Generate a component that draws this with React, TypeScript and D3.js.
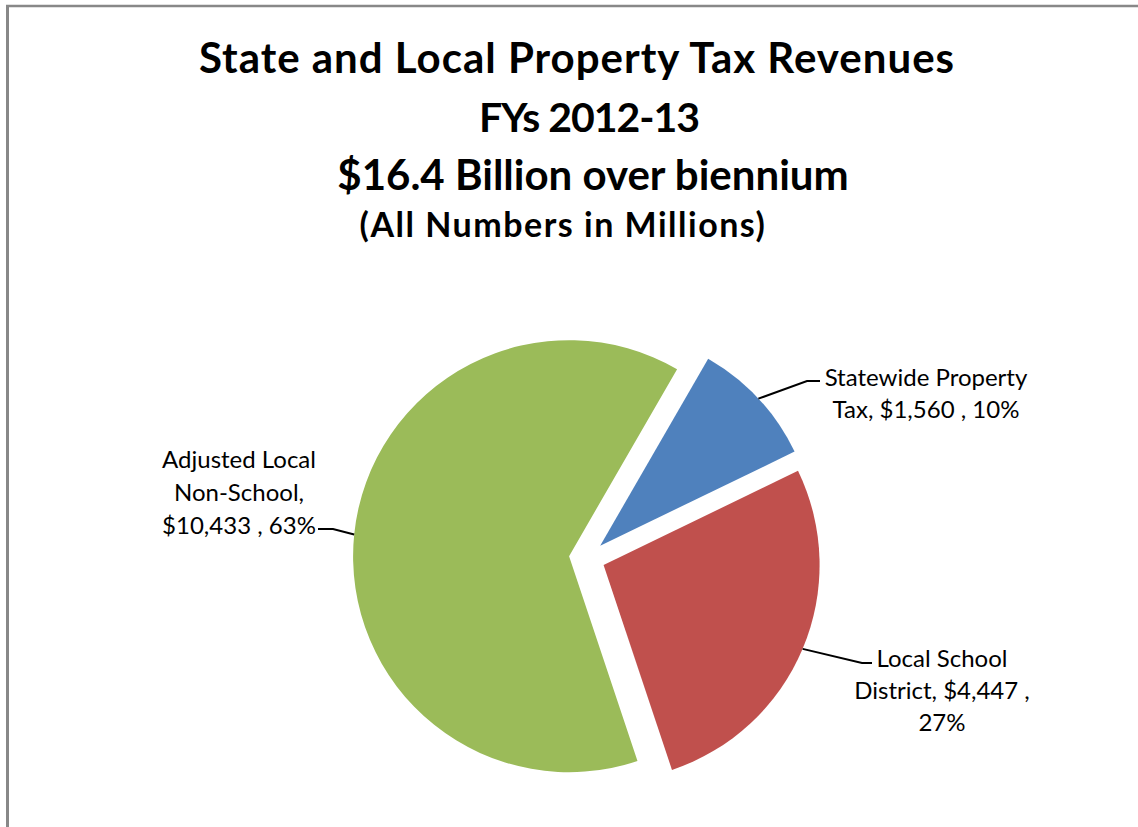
import React from "react";
import * as d3 from "d3";

const categories = ["Statewide Property Tax", "Local School District", "Adjusted Local Non-School"];
const values = [1560, 4447, 10433];
const percents = ["10%", "27%", "63%"];
const colors = ["#4F81BD", "#C0504D", "#9BBB59"];
const titleLines = ["State and Local Property Tax Revenues", "FYs 2012-13", "$16.4 Billion over biennium"];
const subtitle = "(All Numbers in Millions)";

const fmt = d3.format(",");
const labelLines = [
  ["Statewide Property", `Tax, $${fmt(values[0])} , ${percents[0]}`],
  ["Local School", `District, $${fmt(values[1])} ,`, percents[1]],
  ["Adjusted Local", "Non-School,", `$${fmt(values[2])} , ${percents[2]}`],
];

// layout
const W = 1138, H = 827;
const CX = 587, CY = 558, R = 216, EXPLODE = 18;
const START = (30 * Math.PI) / 180;
const titleX = [577, 589, 593];
const titleBase = [73, 132, 190];
const titleSize = [42, 41, 42];
const titleSpacing = [1, -1, 0];
const labelLayout = [
  { cx: 926, y0: 376, dy: 32, elbow: [807, 381], end: [820, 381] },
  { cx: 942, y0: 657, dy: 32, elbow: [862, 663], end: [872, 663] },
  { cx: 239, y0: 458, dy: 33, elbow: [333, 529], end: [318, 529] },
];
const FONT = "Lato, 'Open Sans', sans-serif";

export default function App() {
  const pie = d3.pie<number>().sort(null).startAngle(START).endAngle(START + 2 * Math.PI)(values);
  const arc = d3.arc<d3.PieArcDatum<number>>().innerRadius(0).outerRadius(R);
  return (
    <svg width={W} height={H} style={{ position: "absolute", left: 0, top: 0, display: "block", background: "#fff" }}>
      <rect x={0} y={0} width={W} height={H} fill="#fff" />
      <line x1={7.5} y1={5} x2={7.5} y2={H} stroke="#888" strokeWidth={3} />
      <line x1={6} y1={6} x2={W} y2={6} stroke="#888" strokeWidth={2.5} />
      <g fontFamily={FONT} fontWeight="bold" fill="#000" textAnchor="middle">
        {titleLines.map((t, i) => (
          <text key={i} x={titleX[i]} y={titleBase[i]} fontSize={titleSize[i]} letterSpacing={titleSpacing[i]}>{t}</text>
        ))}
        <text x={563} y={237} fontSize={34} letterSpacing={1.5}>{subtitle}</text>
      </g>
      {pie.map((d, i) => {
        const mid = (d.startAngle + d.endAngle) / 2;
        const ox = CX + Math.sin(mid) * EXPLODE;
        const oy = CY - Math.cos(mid) * EXPLODE;
        const px = ox + Math.sin(mid) * R;
        const py = oy - Math.cos(mid) * R;
        const L = labelLayout[i];
        return (
          <g key={categories[i]}>
            <path d={arc(d) || ""} transform={`translate(${ox},${oy})`} fill={colors[i]} />
            <polyline
              points={`${px},${py} ${L.elbow[0]},${L.elbow[1]} ${L.end[0]},${L.end[1]}`}
              fill="none"
              stroke="#000"
              strokeWidth={2}
            />
            {labelLines[i].map((s, j) => (
              <text
                key={j}
                x={L.cx}
                y={L.y0 + j * L.dy}
                fontFamily={FONT}
                fontSize={24}
                textAnchor="middle"
                dominantBaseline="central"
                fill="#000"
              >
                {s}
              </text>
            ))}
          </g>
        );
      })}
    </svg>
  );
}
